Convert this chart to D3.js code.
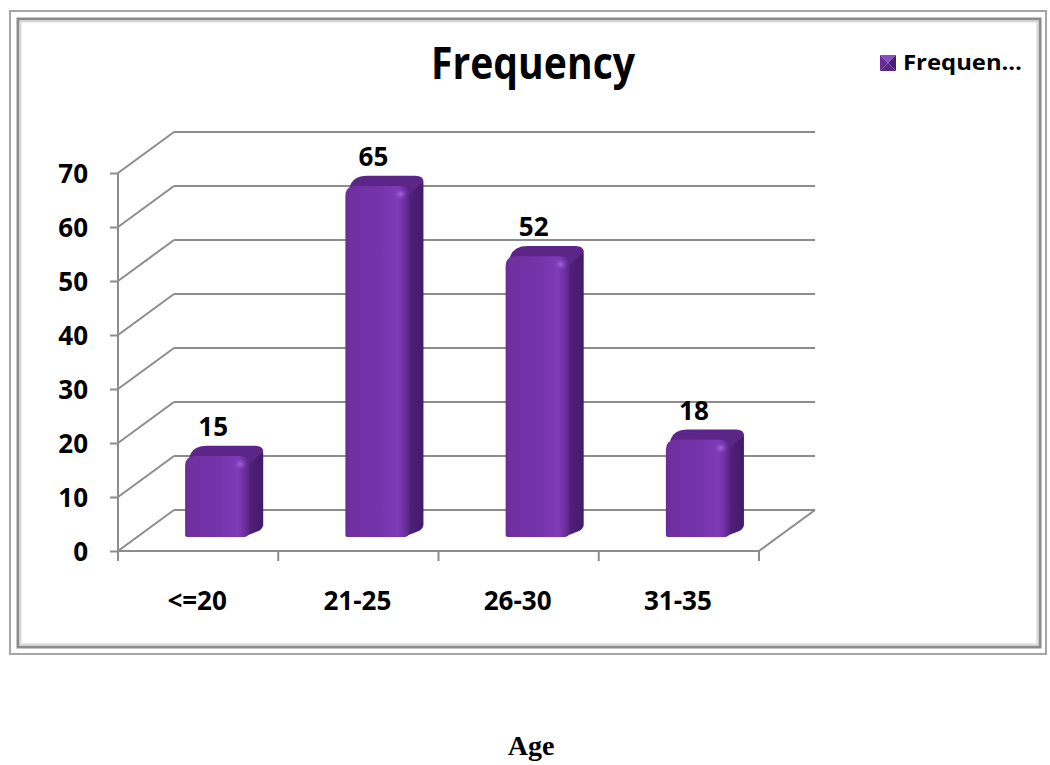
<!DOCTYPE html>
<html>
<head>
<meta charset="utf-8">
<script src="https://cdn.jsdelivr.net/npm/d3@7"></script>
<style>
  html, body { margin: 0; padding: 0; background: #fff; }
  svg { display: block; }
  text { font-family: "Open Sans", "Noto Sans", sans-serif; font-weight: bold; fill: #000; }
</style>
</head>
<body>
<svg id="chart" width="1050" height="765"></svg>
<script>
// Age groups and their frequencies
const categories = ["<=20", "21-25", "26-30", "31-35"];
const frequency = [15, 65, 52, 18];
const yTicks = [0, 10, 20, 30, 40, 50, 60, 70];
const seriesName = "Frequency";
const legendLabel = "Frequen…";
const axisTitle = "Age";

const svg = d3.select("#chart");
const defs = svg.append("defs");

// Chart frame (double bevelled border)
svg.append("rect").attr("x", 10).attr("y", 11).attr("width", 1036).attr("height", 643)
  .attr("fill", "none").attr("stroke", "#a6a6a6").attr("stroke-width", 2);
svg.append("rect").attr("x", 18).attr("y", 19).attr("width", 1022).attr("height", 628)
  .attr("fill", "none").attr("stroke", "#8c8c8c").attr("stroke-width", 3);
svg.append("rect").attr("x", 20.5).attr("y", 21.5).attr("width", 1017).attr("height", 623)
  .attr("fill", "none").attr("stroke", "#d9d9d9").attr("stroke-width", 2);

// Plot geometry: front plane plus a receding depth offset
const x = d3.scaleBand().domain(categories).range([118, 759]);
const y = d3.scaleLinear().domain([0, 70]).range([551, 173]);
const depth = { dx: 56, dy: -41 };
const barFront = 0.34, barBack = 0.59;
const barWidthFrac = 0.4;

const gridColor = "#8c8c8c";
const grid = svg.append("g").attr("stroke", gridColor).attr("stroke-width", 2).attr("fill", "none");

// Back wall gridlines and left wall diagonals
yTicks.forEach(t => {
  const yf = y(t);
  grid.append("line")
    .attr("x1", x.range()[0] + depth.dx).attr("x2", x.range()[1] + depth.dx)
    .attr("y1", yf + depth.dy).attr("y2", yf + depth.dy);
  grid.append("line")
    .attr("x1", x.range()[0]).attr("y1", yf)
    .attr("x2", x.range()[0] + depth.dx).attr("y2", yf + depth.dy);
});
// Floor front edge and right diagonal
grid.append("line").attr("x1", x.range()[0]).attr("x2", x.range()[1]).attr("y1", y(0)).attr("y2", y(0));
grid.append("line").attr("x1", x.range()[1]).attr("y1", y(0))
  .attr("x2", x.range()[1] + depth.dx).attr("y2", y(0) + depth.dy);

// Value axis
const yAxis = d3.axisLeft(y).tickValues(yTicks).tickSize(8).tickPadding(22);
const gy = svg.append("g").attr("transform", `translate(${x.range()[0]},0)`).call(yAxis);
gy.select(".domain").attr("stroke", gridColor).attr("stroke-width", 2)
  .attr("d", `M0,${y(70)}V${y(0)}`);
gy.selectAll(".tick line").attr("stroke", gridColor).attr("stroke-width", 2);
gy.selectAll(".tick text").style("font-size", "26px").attr("dy", "0.36em")
  .style("font-family", "'Open Sans', sans-serif").style("font-weight", "bold").attr("fill", "#000");

// Category axis
const xAxis = d3.axisBottom(x).tickSize(0).tickPadding(0);
const gx = svg.append("g").attr("transform", `translate(0,${y(0)})`).call(xAxis);
gx.select(".domain").remove();
gx.selectAll(".tick text").attr("y", 59).attr("dy", 0).attr("dx", -1)
  .style("font-size", "26px").style("font-family", "'Open Sans', sans-serif")
  .style("font-weight", "bold").attr("fill", "#000");
const boundaries = categories.map(c => x(c)).concat([x.range()[1]]);
svg.append("g").selectAll("line").data(boundaries).join("line")
  .attr("x1", d => d).attr("x2", d => d)
  .attr("y1", y(0)).attr("y2", y(0) + 10)
  .attr("stroke", gridColor).attr("stroke-width", 2);

// Bar shading
const frontGrad = defs.append("linearGradient").attr("id", "barFront")
  .attr("x1", "0").attr("x2", "1").attr("y1", "0").attr("y2", "0");
[["0%", "#6a2b9a"], ["8%", "#7030a0"], ["55%", "#7634ab"], ["82%", "#7e3ab8"], ["93%", "#6c2e9c"], ["100%", "#5a2585"]]
  .forEach(([o, c]) => frontGrad.append("stop").attr("offset", o).attr("stop-color", c));
const sideGrad = defs.append("linearGradient").attr("id", "barSide")
  .attr("x1", "0").attr("x2", "1").attr("y1", "0").attr("y2", "0");
[["0%", "#55237e"], ["100%", "#44196a"]]
  .forEach(([o, c]) => sideGrad.append("stop").attr("offset", o).attr("stop-color", c));
const shine = defs.append("radialGradient").attr("id", "barShine");
[["0%", "#a870e0", 0.9], ["100%", "#8040c0", 0]]
  .forEach(([o, c, a]) => shine.append("stop").attr("offset", o).attr("stop-color", c).attr("stop-opacity", a));

const bw = x.bandwidth() * barWidthFrac;
const fx = barFront * depth.dx, fy = barFront * depth.dy;
const sx = (barBack - barFront) * depth.dx, sy = (barBack - barFront) * depth.dy;
const r = 10;

const bars = svg.append("g").selectAll("g").data(categories.map((c, i) => ({ c, v: frequency[i] })))
  .join("g");

bars.each(function (d) {
  const g = d3.select(this);
  const cx = x(d.c) + x.bandwidth() / 2 + fx;
  const x0 = cx - bw / 2, x1 = cx + bw / 2;
  const yb = y(0) + fy, yt = y(d.v) + fy;

  // side face
  g.append("path")
    .attr("d", `M${x1 - 2},${yt + 4} L${x1 + sx - 3},${yt + sy + 2} Q${x1 + sx},${yt + sy + 3} ${x1 + sx},${yt + sy + 8}
      L${x1 + sx},${yb + sy - 2} Q${x1 + sx},${yb + sy + 1} ${x1 + sx - 4},${yb + sy + 4} L${x1 - 6},${yb} Z`)
    .attr("fill", "url(#barSide)");
  // top face
  g.append("path")
    .attr("d", `M${x0 + 4},${yt + 2} Q${x0 + sx * 0.5},${yt + sy} ${x0 + sx + 8},${yt + sy}
      L${x1 + sx - 8},${yt + sy} Q${x1 + sx},${yt + sy} ${x1 + sx},${yt + sy + 6} L${x1},${yt + 8} Z`)
    .attr("fill", "#5c2689");
  // front face with rounded top corners
  g.append("path")
    .attr("d", `M${x0},${yb - 2} L${x0},${yt + r} Q${x0},${yt} ${x0 + r},${yt}
      L${x1 - r},${yt} Q${x1},${yt} ${x1},${yt + r} L${x1},${yb - 6} Q${x1},${yb} ${x1 - 6},${yb}
      L${x0 + 2},${yb} Q${x0},${yb} ${x0},${yb - 2} Z`)
    .attr("fill", "url(#barFront)");
  // soft highlight near the top right corner
  g.append("ellipse").attr("cx", x1 - 9).attr("cy", yt + 8).attr("rx", 7).attr("ry", 6)
    .attr("fill", "url(#barShine)");

  // value label
  g.append("text").attr("x", cx - 4).attr("y", yt - 20)
    .attr("text-anchor", "middle").style("font-size", "26px").text(d.v);
});

// Title
svg.append("text").attr("x", 533).attr("y", 79).attr("text-anchor", "middle")
  .style("font-size", "44px").attr("textLength", 204).attr("lengthAdjust", "spacingAndGlyphs")
  .text(seriesName);

// Legend
const lg = svg.append("g").attr("transform", "translate(880,55)");
const s = 16;
[[`M0,0 L${s},0 L${s / 2},${s / 2} Z`, "#8a4cc4"],
 [`M0,0 L${s / 2},${s / 2} L0,${s} Z`, "#6a2b9a"],
 [`M${s},0 L${s},${s} L${s / 2},${s / 2} Z`, "#4a1d70"],
 [`M0,${s} L${s},${s} L${s / 2},${s / 2} Z`, "#5a2585"]]
  .forEach(([p, c]) => lg.append("path").attr("d", p).attr("fill", c));
lg.append("text").attr("x", 23).attr("y", 15).style("font-size", "22px")
  .attr("textLength", 119).attr("lengthAdjust", "spacingAndGlyphs").text(legendLabel);

// Axis caption below the frame
svg.append("text").attr("x", 531).attr("y", 755).attr("text-anchor", "middle")
  .style("font-family", "'Liberation Serif', 'Times New Roman', serif").style("font-size", "28px")
  .text(axisTitle);
</script>
</body>
</html>
